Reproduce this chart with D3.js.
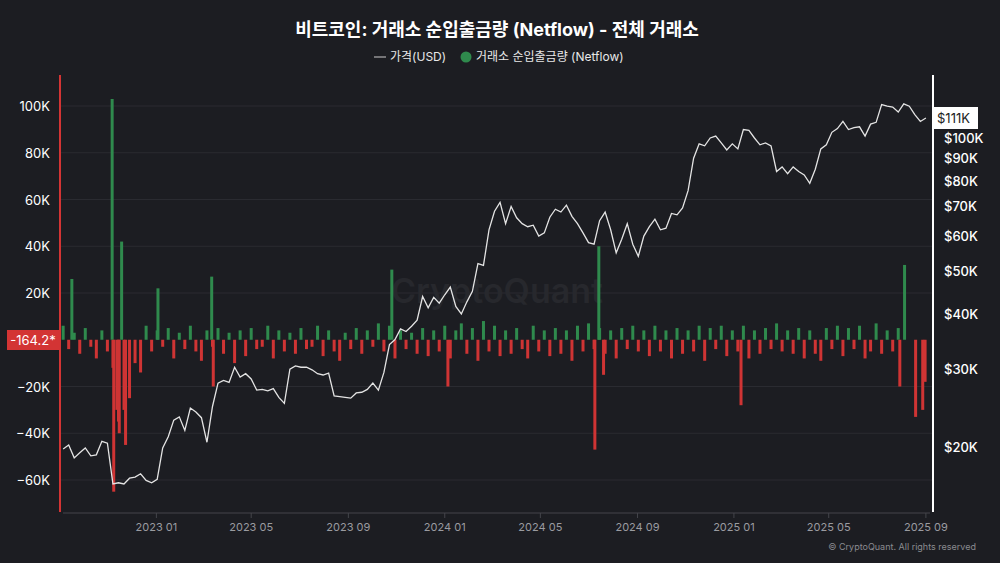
<!DOCTYPE html>
<html><head><meta charset="utf-8">
<script src="https://cdn.jsdelivr.net/npm/d3@7/dist/d3.min.js"></script>
<style>body{margin:0;background:#1c1d22;}svg{display:block;font-family:Inter,"Noto Sans CJK KR",sans-serif;}</style>
</head><body><svg id="c" width="1000" height="563"></svg>
<script>
// weekly price (USD thousands) starting 2022-09-05
const priceStart = "2022-09-05";
const priceK = [19.8,20.2,18.9,19.4,19.9,19.1,19.2,20.6,20.4,16.5,16.6,16.5,17.0,17.1,17.4,16.8,16.6,
16.9,19.9,21.1,23.0,23.4,21.8,24.5,24.0,23.3,20.5,24.7,27.9,28.3,28.0,30.3,28.8,29.3,28.5,26.9,27.0,26.8,27.1,25.9,25.1,30.0,30.5,30.3,30.3,29.9,29.3,29.1,29.4,26.1,26.0,25.9,25.8,26.5,26.6,27.0,27.9,26.9,29.5,34.1,35.0,37.0,36.5,37.5,38.7,43.8,41.3,43.6,42.3,
44.2,46.0,41.6,40.0,42.6,45.0,52.0,51.5,62.0,68.3,71.5,64.0,70.0,66.0,64.0,63.0,63.5,60.0,61.0,66.2,69.0,68.0,70.5,66.5,64.0,61.0,58.0,57.5,65.0,68.0,62.0,55.0,59.0,64.0,57.5,54.0,60.0,63.0,65.5,62.0,62.5,67.5,67.0,69.5,76.0,90.0,97.0,96.0,100.0,101.0,97.5,94.0,97.0,
94.5,104.5,104.0,100.0,96.5,97.5,96.0,84.0,86.0,83.0,86.0,84.0,82.5,79.0,85.0,94.5,96.5,103.0,105.0,109.0,104.5,105.5,106.0,101.0,107.5,108.5,119.0,118.0,117.5,114.5,119.5,118.0,113.0,109.0,111.0];
// weekly netflow (thousands) starting 2022-09-05
const netflowK = [6,-4,3,-6,5,-3,-8,4,-5,-12,-35,-30,-25,-10,-14,6,-5,
4,-3,5,-8,3,-4,6,-5,-9,4,-3,5,-6,3,-10,4,-7,5,-4,-3,6,-8,4,-5,3,-6,5,-4,-3,6,-7,4,-5,-9,3,-4,5,-6,4,-3,7,-5,6,-8,4,-4,3,-6,5,-7,4,
-5,6,-8,4,7,-6,5,-9,8,-5,6,-7,4,-6,5,-4,-8,6,-5,4,-7,5,-6,4,-9,6,-5,7,-4,5,-6,4,-8,5,-4,6,-5,4,-7,6,-5,4,-8,5,-6,4,-5,6,-9,5,-4,
6,-7,4,-5,6,-8,4,-6,5,-4,7,-5,4,-6,5,-8,4,-6,-9,5,-4,6,-7,5,-4,6,-8,-5,7,-6,4,-5,5];
// single-day spikes
const spikeDates = ["2022-09-16","2022-11-06","2022-11-08","2022-11-12","2022-11-15","2022-11-18","2022-11-23","2023-01-03","2023-03-12","2023-03-14","2023-10-26","2024-01-05","2024-07-09","2024-07-14","2024-07-20","2025-01-10","2025-07-30","2025-08-05","2025-08-19","2025-08-28","2025-08-31"];
const spikeK = [26,103,-65,-30,-40,42,-45,22,27,-20,30,-20,-47,40,-15,-28,-20,32,-33,-30,-18];
const leftTicks = [-60000,-40000,-20000,20000,40000,60000,80000,100000];
const rightTicks = [20,30,40,50,60,70,80,90,100];
const xTicks = ["2023-01","2023-05","2023-09","2024-01","2024-05","2024-09","2025-01","2025-05","2025-09"];

const svg = d3.select("#c");
const p = d3.timeParse("%Y-%m-%d");
const day = 864e5;
const x = d3.scaleTime().domain([p("2022-09-01"), p("2025-09-10")]).range([60,933]);
const yL = d3.scaleLinear().domain([-60000,100000]).range([480,106]);
const yR = d3.scaleLog().domain([20,100]).range([447,138]);
const t0 = p(priceStart);
const wk = i => new Date(t0.getTime()+i*7*day);

svg.append("g").selectAll("line").data(leftTicks).join("line")
 .attr("x1",60).attr("x2",933).attr("y1",d=>yL(d)).attr("y2",d=>yL(d)).attr("stroke","#2a2b31");
svg.append("text").attr("x",497).attr("y",303).attr("text-anchor","middle").attr("fill","#27282d")
 .attr("font-size",34).attr("font-weight",600).text("CryptoQuant");

const bars = netflowK.map((v,i)=>({d:wk(i),v:v*1000})).concat(spikeDates.map((s,i)=>({d:p(s),v:spikeK[i]*1000})));
svg.append("g").selectAll("rect").data(bars).join("rect")
 .attr("x",d=>x(d.d)-1.5).attr("width",3)
 .attr("y",d=>Math.min(yL(d.v),yL(0))).attr("height",d=>Math.abs(yL(d.v)-yL(0)))
 .attr("fill",d=>d.v>=0?"#2f8a4d":"#cf3434");

svg.append("path").datum(priceK).attr("fill","none").attr("stroke","#e4e4e4").attr("stroke-width",1.3)
 .attr("d",d3.line().x((d,i)=>x(wk(i))).y(d=>yR(d)));

svg.append("line").attr("x1",60).attr("x2",60).attr("y1",75).attr("y2",512).attr("stroke","#d33434").attr("stroke-width",2);
svg.append("line").attr("x1",933).attr("x2",933).attr("y1",75).attr("y2",512).attr("stroke","#fff").attr("stroke-width",2);
svg.append("line").attr("x1",63).attr("x2",930).attr("y1",513).attr("y2",513).attr("stroke","#44454b");

const f = d3.format("d");
svg.append("g").selectAll("text").data(leftTicks).join("text")
 .attr("x",50).attr("y",d=>yL(d)+5).attr("text-anchor","end").attr("fill","#fff").attr("font-size",13)
 .text(d=>f(d/1000)+"K");
svg.append("g").selectAll("text").data(rightTicks).join("text")
 .attr("x",944).attr("y",d=>yR(d)+5).attr("fill","#fff").attr("font-size",13).attr("font-weight",500)
 .text(d=>"$"+d+"K");
const xp = d3.timeParse("%Y-%m");
svg.append("g").selectAll("g").data(xTicks).join("g").each(function(d){
  const g=d3.select(this), xx=x(xp(d));
  g.append("line").attr("x1",xx).attr("x2",xx).attr("y1",513).attr("y2",518).attr("stroke","#44454b");
  g.append("text").attr("x",xx).attr("y",531).attr("text-anchor","middle").attr("fill","#9a9ba0").attr("font-size",11).text(d.replace("-"," "));
});

svg.append("rect").attr("x",7).attr("y",330).attr("width",52).attr("height",20).attr("fill","#d33434");
svg.append("text").attr("x",33).attr("y",345).attr("text-anchor","middle").attr("fill","#fff").attr("font-size",13).text("-164.2*");
svg.append("rect").attr("x",934).attr("y",107).attr("width",44).attr("height",22).attr("fill","#fff");
svg.append("text").attr("x",937).attr("y",123).attr("fill","#222").attr("font-size",13).text("$"+Math.round(priceK[priceK.length-1])+"K");

svg.append("text").attr("x",497).attr("y",36).attr("text-anchor","middle").attr("fill","#fff").attr("font-size",18).attr("font-weight",700)
 .text("비트코인: 거래소 순입출금량 (Netflow) - 전체 거래소");
svg.append("line").attr("x1",374).attr("x2",386).attr("y1",57).attr("y2",57).attr("stroke","#ccc");
svg.append("text").attr("x",390).attr("y",61).attr("fill","#e8e8e8").attr("font-size",12).text("가격(USD)");
svg.append("circle").attr("cx",466).attr("cy",57).attr("r",5.5).attr("fill","#2f8a4d");
svg.append("text").attr("x",476).attr("y",61).attr("fill","#e8e8e8").attr("font-size",12).text("거래소 순입출금량 (Netflow)");
svg.append("text").attr("x",976).attr("y",550).attr("text-anchor","end").attr("fill","#8a8b90").attr("font-size",9).text("© CryptoQuant. All rights reserved");
</script></body></html>
